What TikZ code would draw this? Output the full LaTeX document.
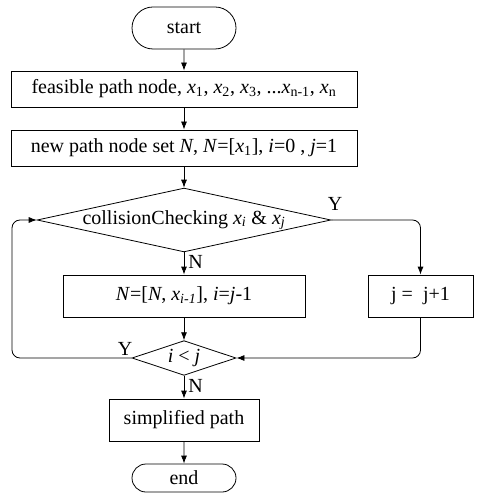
\documentclass[tikz,border=0pt]{standalone}
\usepackage{fontspec}
\setmainfont{Liberation Serif}
\usetikzlibrary{shapes.geometric}
\usetikzlibrary{shapes.misc}
\usetikzlibrary{arrows.meta}

\newcommand{\vx}[1]{\textit{x}\textsubscript{#1}}

\begin{document}
\begin{tikzpicture}[x=0.75pt, y=-0.75pt,
  every node/.style={font=\fontsize{15}{18}\selectfont, inner sep=0pt},
  term/.style={draw, rounded rectangle, minimum height=#1*0.75pt, minimum width=78pt},
  proc/.style={draw, rectangle},
  test/.style={draw, diamond},
  flow/.style={-{Latex[length=6pt, width=4.5pt]}},
  line width=0.6pt]
\useasboundingbox (0,0) rectangle (482,498);

\node[term=42] (start) at (184,28) {start};
\node[proc, minimum width=259.5pt, minimum height=27pt] (feas) at (184,89)
  {feasible path node, \vx{1}, \vx{2}, \vx{3}, ...\vx{n-1}, \vx{n}};
\node[proc, minimum width=259.5pt, minimum height=27pt] (init) at (184,148)
  {new path node set \textit{N}, \textit{N}=[\vx{1}], \textit{i}=0 , \textit{j}=1};
\node[test, aspect=4.6, minimum width=214.5pt, minimum height=46.5pt] (coll) at (184,220)
  {collisionChecking \textit{x}\textsubscript{\textit{i}} \& \textit{x}\textsubscript{\textit{j}}};
\node[proc, minimum width=181.5pt, minimum height=31.5pt] (add) at (184,296)
  {\textit{N}=[\textit{N}, \textit{x}\textsubscript{\textit{i-1}}], \textit{i}=\textit{j}-1};
\node[proc, minimum width=78.75pt, minimum height=31.5pt] (inc) at (420.5,296) {j =\ \ j+1};
\node[test, aspect=3, minimum width=78pt, minimum height=26pt] (cmp) at (184,358)
  {\textit{i} \textless\ \textit{j}};
\node[proc, minimum width=112.5pt, minimum height=31.5pt] (simp) at (184,420) {simplified path};
\node[term=28] (end) at (184,478) {end};

\coordinate (lb) at (12,358);
\coordinate (lt) at (12,220);
\coordinate (rt) at (420.5,220);
\coordinate (rb) at (420.5,358);

\draw[flow] (start) -- (feas);
\draw[flow] (feas) -- (init);
\draw[flow] (init) -- (coll);
\draw[flow] (coll) -- (add) node[pos=0.45, right=3pt] {N};
\draw[flow, rounded corners=6pt] (coll.east) -- (rt) -- (inc.north);
\draw[flow, rounded corners=6pt] (inc.south) -- (rb) -- (cmp.east);
\draw[flow] (add) -- (cmp);
\draw[flow, rounded corners=6pt] (cmp.west) -- (lb) -- (lt) -- (coll.west);
\draw[flow] (cmp) -- (simp) node[pos=0.45, right=3pt] {N};
\draw[flow] (simp) -- (end);

\node (y1) at (335,204) {Y};
\node (y2) at (125,349) {Y};
\end{tikzpicture}
\end{document}
